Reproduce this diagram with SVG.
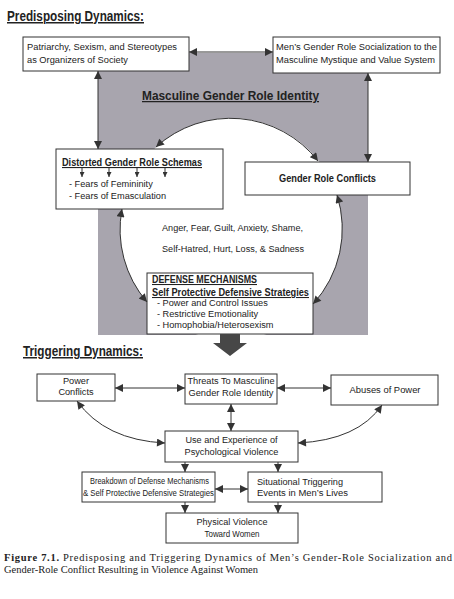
<svg xmlns="http://www.w3.org/2000/svg" width="454" height="599" viewBox="0 0 454 599">
<style>
.t{font-family:"Liberation Sans",Arial,sans-serif;font-size:9.2px;fill:#222}
.b{font-family:"Liberation Sans",Arial,sans-serif;font-weight:bold;fill:#222}
.u{text-decoration:underline}
.box{fill:#fff;stroke:#333;stroke-width:1}
.c{fill:none;stroke:#333;stroke-width:1}
.cap{font-family:"Liberation Serif","Times New Roman",serif;font-size:10.5px;fill:#222}
</style>
<defs>
<marker id="ah" viewBox="0 0 10 10" refX="10" refY="5" markerWidth="9" markerHeight="8" markerUnits="userSpaceOnUse" orient="auto-start-reverse"><path d="M0,0 L10,5 L0,10 z" fill="#333"/></marker>
<marker id="as" viewBox="0 0 10 10" refX="10" refY="5" markerWidth="6" markerHeight="5" markerUnits="userSpaceOnUse" orient="auto-start-reverse"><path d="M0,0 L10,5 L0,10 z" fill="#333"/></marker>
</defs>
<rect width="454" height="599" fill="#fff"/>
<text class="b u" x="7" y="21" font-size="15" textLength="137" lengthAdjust="spacingAndGlyphs">Predisposing Dynamics:</text>
<g id="identity">
<rect x="98" y="53" width="270" height="282" fill="#a8a5ae"/>
<circle cx="231" cy="229" r="111" fill="#fff"/>
<text class="b u" x="142" y="100" font-size="12.5" textLength="177" lengthAdjust="spacingAndGlyphs">Masculine Gender Role Identity</text>
</g>
<g id="patriarchy">
<rect class="box" x="23" y="37" width="166" height="34"/>
<text class="t" x="27" y="50" textLength="150" lengthAdjust="spacingAndGlyphs">Patriarchy, Sexism, and Stereotypes</text>
<text class="t" x="27" y="63" textLength="101" lengthAdjust="spacingAndGlyphs">as Organizers of Society</text>
</g>
<g id="socialization">
<rect class="box" x="273" y="37" width="167" height="36"/>
<text class="t" x="276" y="50" textLength="161" lengthAdjust="spacingAndGlyphs">Men’s Gender Role Socialization to the</text>
<text class="t" x="276" y="63" textLength="159" lengthAdjust="spacingAndGlyphs">Masculine Mystique and Value System</text>
</g>
<g id="schemas">
<rect class="box" x="56" y="149" width="167" height="60"/>
<text class="b u" x="62" y="166" font-size="11" textLength="140" lengthAdjust="spacingAndGlyphs">Distorted Gender Role Schemas</text>
<text class="t" x="69" y="187">- Fears of Femininity</text>
<text class="t" x="69" y="199">- Fears of Emasculation</text>
</g>
<g id="conflicts">
<rect class="box" x="245" y="162" width="165" height="33"/>
<text class="b" x="327.5" y="182" font-size="11" text-anchor="middle" textLength="97" lengthAdjust="spacingAndGlyphs">Gender Role Conflicts</text>
</g>
<g id="emotions">
<text class="t" x="162" y="231" textLength="141" lengthAdjust="spacingAndGlyphs">Anger, Fear, Guilt, Anxiety, Shame,</text>
<text class="t" x="162" y="252" textLength="142" lengthAdjust="spacingAndGlyphs">Self-Hatred, Hurt, Loss, &amp; Sadness</text>
</g>
<g id="defense">
<rect class="box" x="147" y="273" width="166" height="61"/>
<text class="b u" x="152" y="283" font-size="10.5" textLength="105" lengthAdjust="spacingAndGlyphs">DEFENSE MECHANISMS</text>
<text class="b u" x="152" y="296" font-size="10.5" textLength="157" lengthAdjust="spacingAndGlyphs">Self Protective Defensive Strategies</text>
<text class="t" x="157" y="306">- Power and Control Issues</text>
<text class="t" x="157" y="317">- Restrictive Emotionality</text>
<text class="t" x="157" y="328">- Homophobia/Heterosexism</text>
</g>
<text class="b u" x="23" y="356" font-size="15" textLength="120" lengthAdjust="spacingAndGlyphs">Triggering Dynamics:</text>
<g id="power">
<rect class="box" x="37" y="374" width="78" height="27"/>
<text class="t" x="76" y="384" text-anchor="middle">Power</text>
<text class="t" x="76" y="395" text-anchor="middle">Conflicts</text>
</g>
<g id="threats">
<rect class="box" x="185" y="374" width="92" height="30"/>
<text class="t" x="231" y="384" text-anchor="middle" textLength="87" lengthAdjust="spacingAndGlyphs">Threats To Masculine</text>
<text class="t" x="231" y="396" text-anchor="middle" textLength="85" lengthAdjust="spacingAndGlyphs">Gender Role Identity</text>
</g>
<g id="abuses">
<rect class="box" x="331" y="375" width="107" height="30"/>
<text class="t" x="385" y="393" text-anchor="middle" textLength="71" lengthAdjust="spacingAndGlyphs">Abuses of Power</text>
</g>
<g id="psychological">
<rect class="box" x="165" y="431" width="133" height="31"/>
<text class="t" x="231.5" y="443" text-anchor="middle" textLength="92" lengthAdjust="spacingAndGlyphs">Use and Experience of</text>
<text class="t" x="231.5" y="455" text-anchor="middle" textLength="94" lengthAdjust="spacingAndGlyphs">Psychological Violence</text>
</g>
<g id="breakdown">
<rect class="box" x="82" y="472" width="133" height="30"/>
<text class="t" x="90" y="484" font-size="8.2" textLength="119" lengthAdjust="spacingAndGlyphs">Breakdown of Defense Mechanisms</text>
<text class="t" x="83" y="496" font-size="8.2" textLength="131" lengthAdjust="spacingAndGlyphs">&amp; Self Protective Defensive Strategies</text>
</g>
<g id="situational">
<rect class="box" x="248" y="472" width="134" height="30"/>
<text class="t" x="257" y="485" textLength="86" lengthAdjust="spacingAndGlyphs">Situational Triggering</text>
<text class="t" x="257" y="496" textLength="91" lengthAdjust="spacingAndGlyphs">Events in Men’s Lives</text>
</g>
<g id="physical">
<rect class="box" x="166" y="513" width="132" height="30"/>
<text class="t" x="232" y="525" text-anchor="middle" textLength="71" lengthAdjust="spacingAndGlyphs">Physical Violence</text>
<text class="t" x="232" y="537" text-anchor="middle" textLength="55" lengthAdjust="spacingAndGlyphs">Toward Women</text>
</g>
<g id="connectors">
<path class="c" d="M189,52 H273" marker-start="url(#ah)" marker-end="url(#ah)"/>
<path class="c" d="M98,71 V149" marker-start="url(#ah)" marker-end="url(#ah)"/>
<path class="c" d="M368,73 V162" marker-start="url(#ah)" marker-end="url(#ah)"/>
<path class="c" d="M156,147 A111,111 0 0 1 318,161" marker-start="url(#ah)" marker-end="url(#ah)"/>
<path class="c" d="M122,209 A111,111 0 0 0 147,302" marker-start="url(#ah)" marker-end="url(#ah)"/>
<path class="c" d="M337,195 A111,111 0 0 1 313,304" marker-start="url(#ah)" marker-end="url(#ah)"/>
<path class="c" d="M82,168 V177" marker-end="url(#as)"/>
<path class="c" d="M109,168 V177" marker-end="url(#as)"/>
<path class="c" d="M137,168 V177" marker-end="url(#as)"/>
<path class="c" d="M165,168 V177" marker-end="url(#as)"/>
<polygon points="220,334 240,334 240,343 247,343 230,356 213,343 220,343" fill="#474747"/>
<path class="c" d="M115,388 H185" marker-start="url(#ah)" marker-end="url(#ah)"/>
<path class="c" d="M277,388 H331" marker-start="url(#ah)" marker-end="url(#ah)"/>
<path class="c" d="M231,404 V431" marker-start="url(#ah)" marker-end="url(#ah)"/>
<path class="c" d="M77,401 Q105,440 165,443" marker-start="url(#ah)" marker-end="url(#ah)"/>
<path class="c" d="M382,405 Q358,440 298,443" marker-start="url(#ah)" marker-end="url(#ah)"/>
<path class="c" d="M185,462 V472" marker-end="url(#ah)"/>
<path class="c" d="M278,462 V472" marker-end="url(#ah)"/>
<path class="c" d="M215,489 H248" marker-start="url(#ah)" marker-end="url(#ah)"/>
<path class="c" d="M185,502 V513" marker-end="url(#ah)"/>
<path class="c" d="M278,502 V513" marker-end="url(#ah)"/>
</g>
<text class="cap" x="4" y="561" textLength="448" lengthAdjust="spacing"><tspan font-weight="bold">Figure 7.1.</tspan> Predisposing and Triggering Dynamics of Men’s Gender-Role Socialization and</text>
<text class="cap" x="4" y="573">Gender-Role Conflict Resulting in Violence Against Women</text>
</svg>
